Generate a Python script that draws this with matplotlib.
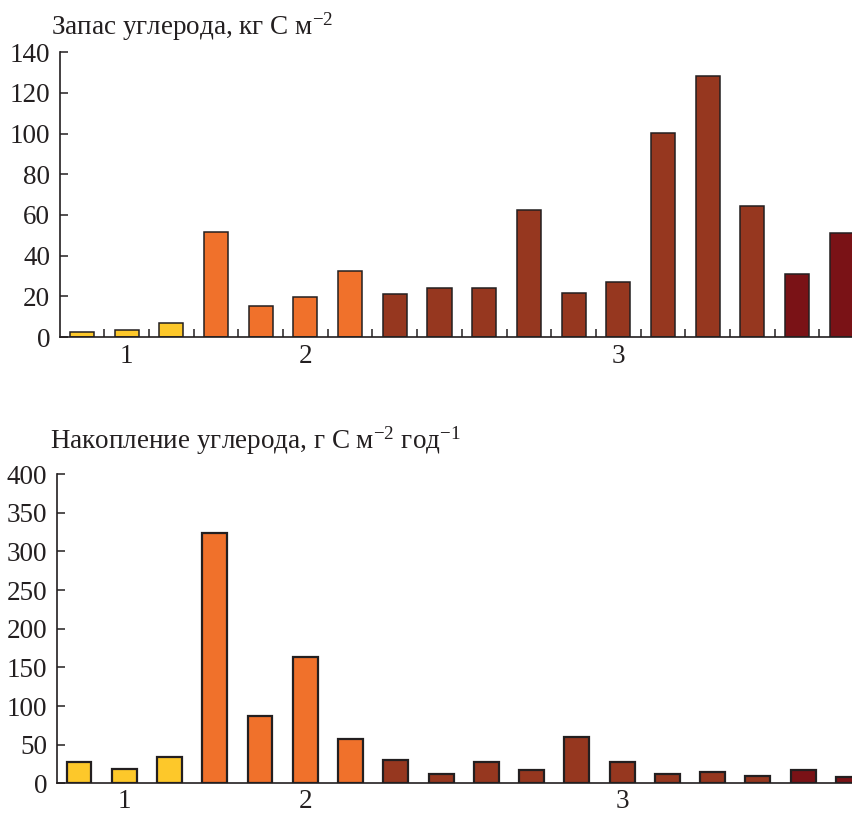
import numpy as np
import matplotlib
matplotlib.use('Agg')
import matplotlib.pyplot as plt

# данные
stock = [2.3, 3.5, 6.7, 51.7, 15.1, 19.5, 32.3, 20.9, 24.2, 24.2,
         62.5, 21.6, 27.2, 100.3, 128.5, 64.5, 31.1, 50.9]
accum = [27, 18, 34, 324, 87, 163, 58, 29.6, 11.6, 27.4,
         16.7, 60.5, 27.4, 12, 14.5, 9.9, 16.7, 7.7]
groups = ['y'] * 3 + ['o'] * 4 + ['b'] * 9 + ['r'] * 2
group_ticks = [1, 5, 12]
group_labels = ['1', '2', '3']

palette = {'y': '#FDC82A', 'o': '#F0712B', 'b': '#96371F', 'r': '#7A1216'}
colors = [palette[g] for g in groups]
dark = '#231f20'

plt.rcParams['font.family'] = 'serif'
plt.rcParams['font.serif'] = ['Liberation Serif', 'DejaVu Serif']
plt.rcParams['mathtext.fontset'] = 'custom'
plt.rcParams['mathtext.rm'] = 'Liberation Serif'
plt.rcParams['mathtext.it'] = 'Liberation Serif:italic'
plt.rcParams['text.color'] = dark
plt.rcParams['xtick.color'] = dark
plt.rcParams['ytick.color'] = dark

fs = 19.5

fig = plt.figure(figsize=(8.53, 8.16), dpi=100)
ax1 = fig.add_axes([0.0703, 0.587, 0.9297, 0.349])
ax2 = fig.add_axes([0.0668, 0.040, 0.9332, 0.379])

x = np.arange(len(stock))


def style(ax, ymax, step, xlim, xpad):
    for s in ['top', 'right']:
        ax.spines[s].set_visible(False)
    for s in ['left', 'bottom']:
        ax.spines[s].set_linewidth(1.2)
        ax.spines[s].set_color(dark)
    ax.set_ylim(0, ymax)
    ax.set_yticks(np.arange(0, ymax + 1, step))
    ax.set_xlim(*xlim)
    ax.set_xticks(group_ticks)
    ax.set_xticklabels(group_labels)
    ax.tick_params(axis='x', which='major', length=0, pad=xpad, labelsize=fs)
    ax.tick_params(axis='y', direction='in', length=6, width=1.1, pad=7, labelsize=fs)


# запас углерода
ax1.bar(x, stock, width=0.54, color=colors, edgecolor=dark, linewidth=1.1)
style(ax1, 140, 20, (-0.49, 17.25), 5)
ax1.set_xticks(x[:-1] + 0.5, minor=True)
ax1.tick_params(axis='x', which='minor', direction='in', length=6, width=1.1)

# накопление углерода
ax2.bar(x, accum, width=0.55, color=colors, edgecolor=dark, linewidth=1.6)
style(ax2, 400, 50, (-0.486, 17.1), 4)

fig.text(0.06, 0.947, 'Запас углерода, кг С м$^{-2}$', fontsize=fs, va='bottom')
fig.text(0.059, 0.440, 'Накопление углерода, г С м$^{-2}$ год$^{-1}$', fontsize=fs, va='bottom')

fig.savefig('out.png', dpi=100)
